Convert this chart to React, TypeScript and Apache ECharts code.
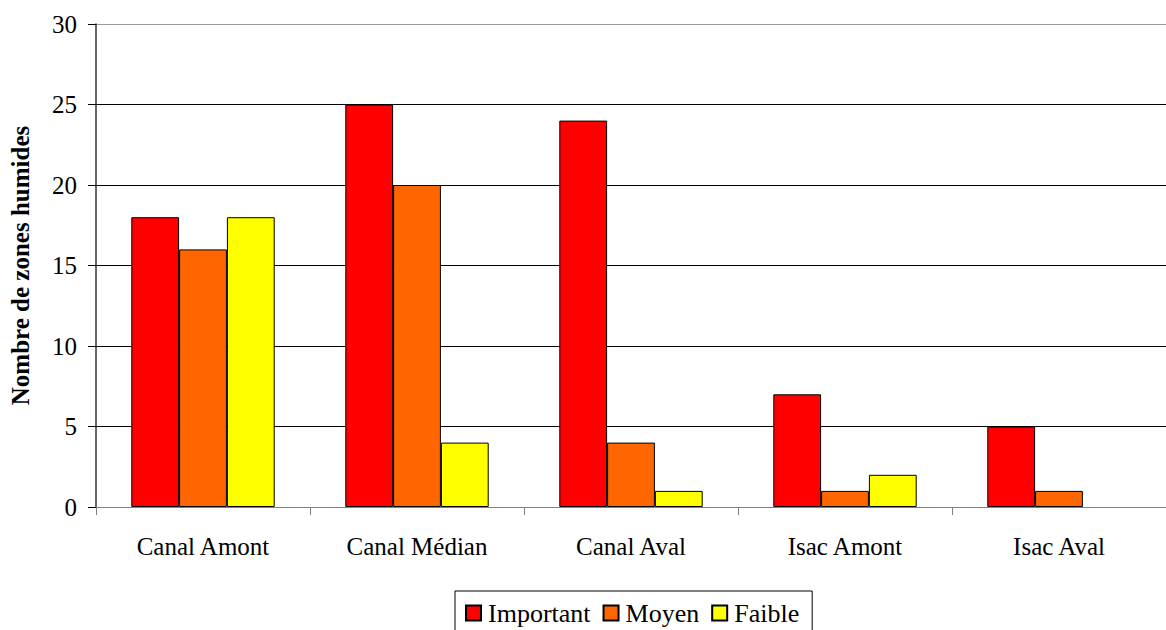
import React, { useEffect, useRef } from "react";
import * as echarts from "echarts";

const categories = ["Canal Amont", "Canal Médian", "Canal Aval", "Isac Amont", "Isac Aval"];
const important = [18, 25, 24, 7, 5];
const moyen = [16, 20, 4, 1, 1];
const faible = [18, 4, 1, 2, 0];
const seriesNames = ["Important", "Moyen", "Faible"];
const colors = ["#FF0000", "#FF6600", "#FFFF00"];

const FONT = "'Liberation Serif', 'Times New Roman', serif";

export default function App() {
  const ref = useRef<HTMLDivElement>(null);
  useEffect(() => {
    if (!ref.current) return;
    const chart = echarts.init(ref.current, null, { renderer: "svg" });
    const values = [important, moyen, faible];
    chart.setOption({
      animation: false,
      backgroundColor: "#fff",
      textStyle: { fontFamily: FONT },
      grid: {
        left: 96,
        right: 0,
        top: 24,
        bottom: 123,
        containLabel: false,
        outerBoundsMode: "none",
      },
      legend: {
        data: seriesNames,
        top: 591,
        left: 455,
        orient: "horizontal",
        borderColor: "#000",
        borderWidth: 1,
        padding: [9, 13, 30, 10],
        itemWidth: 15,
        itemHeight: 15,
        itemGap: 12,
        icon: "rect",
        textStyle: { fontFamily: FONT, fontSize: 26, color: "#000", padding: [0, 0, 0, 2] },
      },
      xAxis: {
        type: "category",
        data: categories,
        axisLine: { lineStyle: { color: "#808080", width: 1 } },
        axisTick: { show: true, length: 8, lineStyle: { color: "#808080" } },
        axisLabel: { fontFamily: FONT, fontSize: 25, color: "#000", margin: 27 },
      },
      yAxis: {
        type: "value",
        min: 0,
        max: 30,
        interval: 5,
        name: "Nombre de zones humides",
        nameLocation: "middle",
        nameGap: 63,
        nameRotate: 90,
        nameTextStyle: { fontFamily: FONT, fontSize: 25, fontWeight: "bold", color: "#000" },
        axisLine: { show: true, lineStyle: { color: "#333", width: 1.5 } },
        axisTick: { show: true, length: 8, lineStyle: { color: "#000" } },
        axisLabel: { fontFamily: FONT, fontSize: 25, color: "#000", margin: 19 },
        splitLine: {
          show: true,
          lineStyle: { color: ["#000", "#000", "#000", "#000", "#000", "#000", "#999"], width: 1 },
        },
      },
      series: seriesNames.map((name, i) => ({
        name,
        type: "bar",
        data: values[i].map((v) => (v === 0 ? { value: v, itemStyle: { borderWidth: 0 } } : v)),
        barGap: "0%",
        barCategoryGap: "33%",
        itemStyle: { color: colors[i], borderColor: "#000", borderWidth: 1 },
      })),
    });
    return () => chart.dispose();
  }, []);
  return (
    <div
      ref={ref}
      style={{ position: "absolute", left: 0, top: 0, width: 1166, height: 630 }}
    />
  );
}
